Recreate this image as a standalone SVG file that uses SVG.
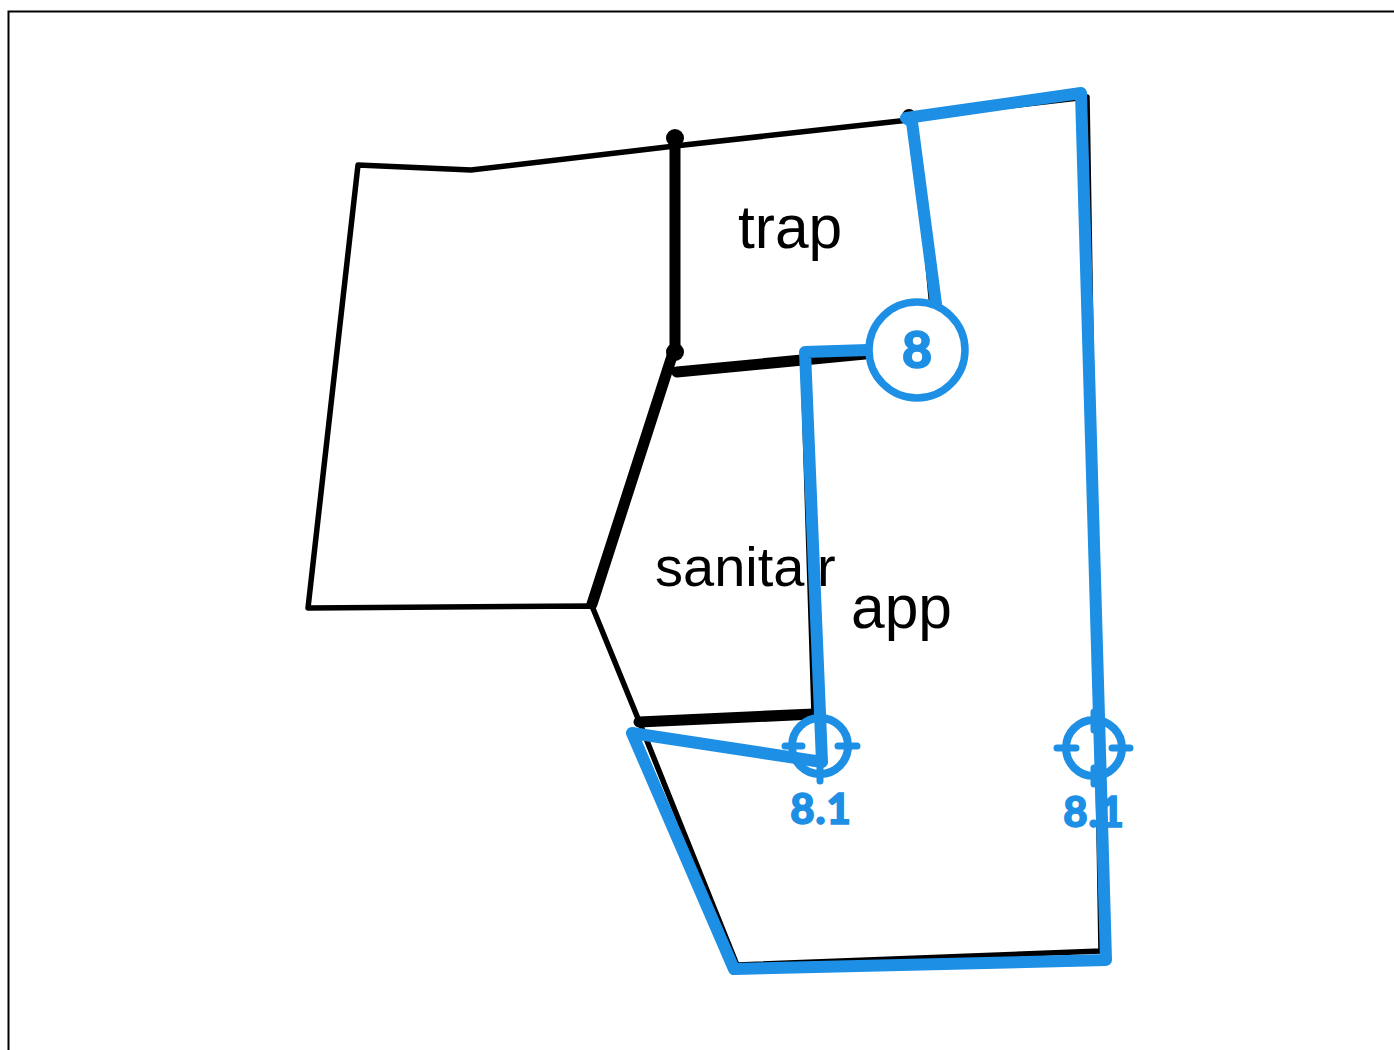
<svg xmlns="http://www.w3.org/2000/svg" width="1394" height="1050" viewBox="0 0 1394 1050">
<style>
.k{fill:none;stroke:#000;stroke-linejoin:round;stroke-linecap:round}
.b{fill:none;stroke:#1d8fe4;stroke-linejoin:round;stroke-linecap:round}
.t{font-family:"Liberation Sans",Arial,sans-serif;fill:#000}
.n{font-family:"Lato","Open Sans","Liberation Sans",sans-serif;font-weight:900;fill:#1d8fe4;stroke:#1d8fe4;stroke-width:1.500;text-anchor:middle}
</style>
<rect width="1394" height="1050" fill="#fff"/>
<path d="M8.500 1050V11.500H1394" fill="none" stroke="#000" stroke-width="2"/>
<g id="trap"><text class="t" x="738" y="248" font-size="60.500">trap</text></g>
<g id="sanitair"><text class="t" x="655" y="586" font-size="56">sanitair</text></g>
<g id="app"><text class="t" x="851" y="628" font-size="60.500">app</text></g>
<g id="connectors">
<path class="k" stroke-width="5.500" d="M909 120L675 146L471 170L358 165L308 608L592 606L639 721L737 965L1101 951L1087 97L1000 107L909 120"/>
<path class="k" stroke-width="11" d="M675 138V352M677 372L865 354M672 356L592 604M639 722L814 714"/>
<path class="k" stroke-width="5.500" d="M803 360L814 714"/>
<circle cx="675" cy="138" r="9"/>
<circle cx="675" cy="352" r="9"/>
<circle cx="909" cy="116" r="7"/>
<path class="k" stroke-width="3" d="M914 125L930 300"/>
<path class="b" stroke-width="12" d="M936 304L912 122L906 118L1081 93L1106 960L734 969L632 733L822 762L805 352L868 350"/>
</g>
<g id="node-8">
<circle cx="917" cy="350" r="48" fill="#fff" stroke="#1d8fe4" stroke-width="7.500"/>
<text class="n" x="917" y="368" font-size="52">8</text>
</g>
<g id="node-8-1a">
<circle class="b" cx="820" cy="746" r="28" stroke-width="8"/>
<path class="b" stroke-width="7" d="M785 746H802M838 746H857M820 716V732M820 764V781"/>
<text class="n" x="821" y="824" font-size="42" letter-spacing="1">8.1</text>
</g>
<g id="node-8-1b">
<circle class="b" cx="1094" cy="748" r="28" stroke-width="8"/>
<path class="b" stroke-width="7" d="M1057 748H1076M1112 748H1130M1094 712V730M1094 768V784"/>
<text class="n" x="1094" y="827" font-size="42" letter-spacing="1">8.1</text>
</g>
</svg>
